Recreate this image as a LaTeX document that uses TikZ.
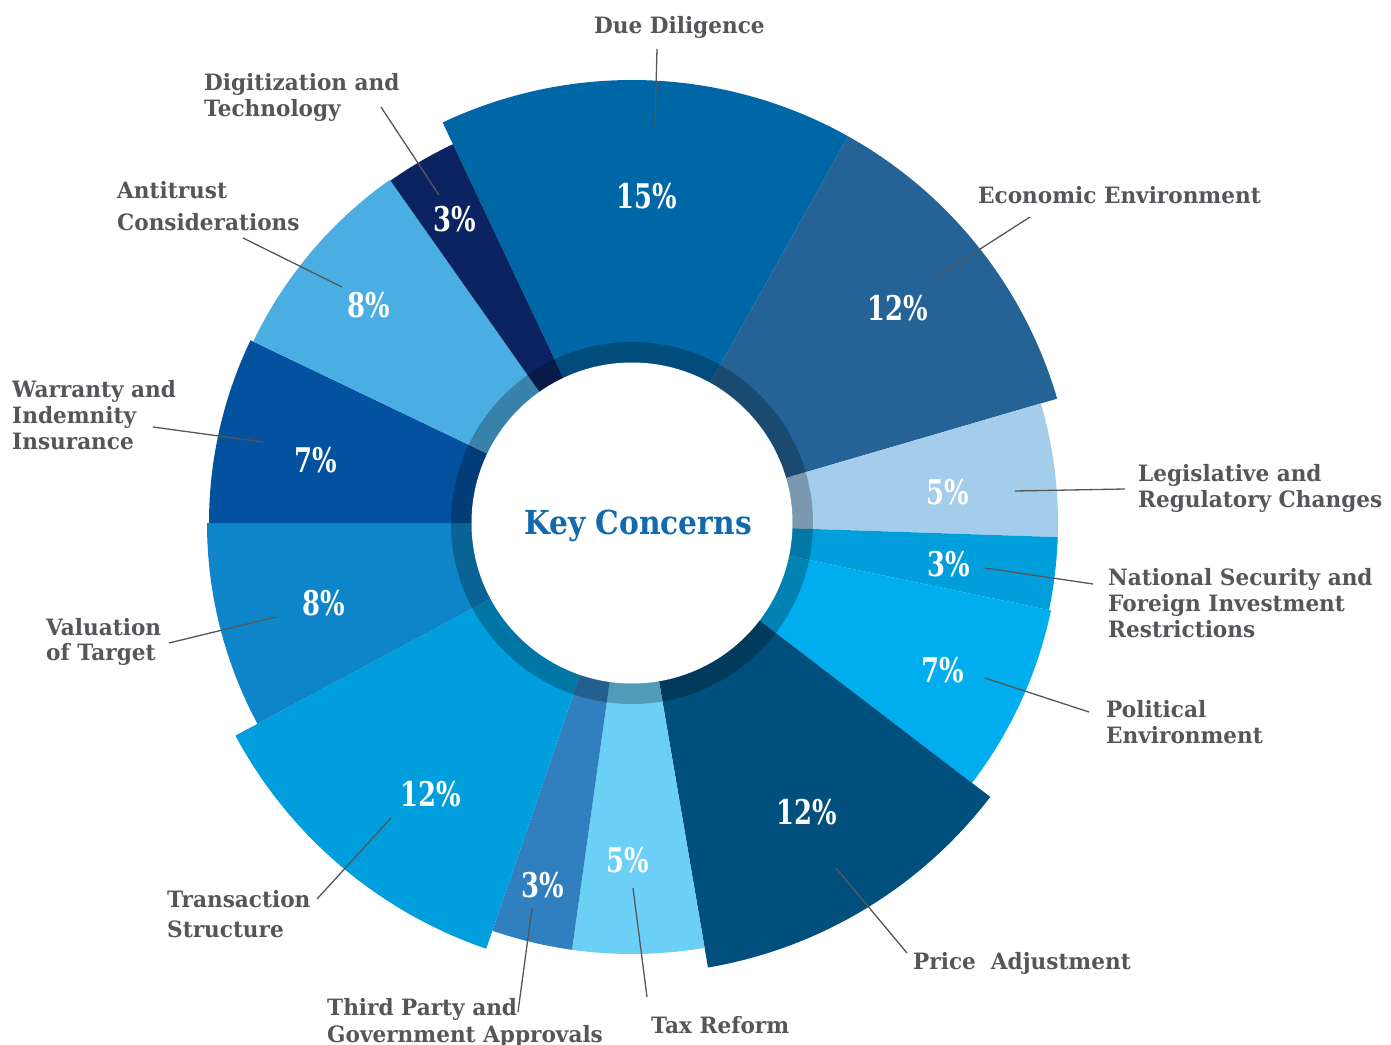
\documentclass[tikz,border=0pt]{standalone}
\usepackage{fontspec}
\setmainfont{DejaVu Serif}[FakeStretch=0.96]
\newfontfamily\pctfont{DejaVu Serif}[FakeStretch=0.76]
\newfontfamily\titlefont{DejaVu Serif}[FakeStretch=0.9]
\usepackage{tikz}

\definecolor{labelgray}{HTML}{55565A}
\definecolor{titleblue}{HTML}{1169AE}
\definecolor{duecol}{HTML}{0067A7}
\definecolor{econcol}{HTML}{256397}
\definecolor{legiscol}{HTML}{A3CDEB}
\definecolor{natcol}{HTML}{009FDC}
\definecolor{polcol}{HTML}{00AEEF}
\definecolor{pricecol}{HTML}{004F7D}
\definecolor{taxcol}{HTML}{6BCFF6}
\definecolor{thirdcol}{HTML}{3080BF}
\definecolor{transcol}{HTML}{009EDC}
\definecolor{valcol}{HTML}{0D85C8}
\definecolor{warrcol}{HTML}{0352A0}
\definecolor{anticol}{HTML}{4BAEE2}
\definecolor{digicol}{HTML}{0B2361}

\begin{document}
\begin{tikzpicture}[x=1pt, y=1pt,
    pct/.style={text=white, font=\pctfont\bfseries\fontsize{34}{34}\selectfont, inner sep=0pt},
    lbl/.style={text=labelgray, font=\bfseries\fontsize{22.5}{26}\selectfont, align=left, anchor=north west, inner sep=0pt},
    lead/.style={draw=labelgray, line width=1.3pt}]
      \useasboundingbox (-632,-521) rectangle (759,523);

      % Segmente
      \fill[duecol] (0,0) -- (115.3:443) arc[start angle=115.3, end angle=60.8, radius=443] -- cycle;
      \fill[econcol] (0,0) -- (60.8:443) arc[start angle=60.8, end angle=16.3, radius=443] -- cycle;
      \fill[legiscol] (0,0) -- (16.3:426) arc[start angle=16.3, end angle=-1.9, radius=426] -- cycle;
      \fill[natcol] (0,0) -- (-1.9:426) arc[start angle=-1.9, end angle=-11.8, radius=426] -- cycle;
      \fill[polcol] (0,0) -- (-11.8:428) arc[start angle=-11.8, end angle=-37.4, radius=428] -- cycle;
      \fill[pricecol] (0,0) -- (-37.4:451) arc[start angle=-37.4, end angle=-80.3, radius=451] -- cycle;
      \fill[taxcol] (0,0) -- (-80.3:431) arc[start angle=-80.3, end angle=-98.0, radius=431] -- cycle;
      \fill[thirdcol] (0,0) -- (-98.0:431) arc[start angle=-98.0, end angle=-108.9, radius=431] -- cycle;
      \fill[transcol] (0,0) -- (-108.9:450) arc[start angle=-108.9, end angle=-151.8, radius=450] -- cycle;
      \fill[valcol] (0,0) -- (-151.8:425) arc[start angle=-151.8, end angle=-180, radius=425] -- cycle;
      \fill[warrcol] (0,0) -- (180:423) arc[start angle=180, end angle=154.4, radius=423] -- cycle;
      \fill[anticol] (0,0) -- (154.4:420) arc[start angle=154.4, end angle=125.2, radius=420] -- cycle;
      \fill[digicol] (0,0) -- (125.2:419) arc[start angle=125.2, end angle=115.3, radius=419] -- cycle;

      % Ring und Mitte
      \fill[black, opacity=0.25] (0,0) circle (181);
      \fill[white] (0,0) circle (160.5);
      \node[text=titleblue, font=\titlefont\bfseries\fontsize{33}{33}\selectfont, anchor=base, inner sep=0pt] (title) at (6,-11) {Key Concerns};

      % Prozente
      \node[pct] (pdue) at (15,327) {15\%};
      \node[pct] (pecon) at (266,215) {12\%};
      \node[pct] (plegis) at (316,31) {5\%};
      \node[pct] (pnat) at (317,-41) {3\%};
      \node[pct] (ppol) at (311,-147) {7\%};
      \node[pct] (pprice) at (175,-289) {12\%};
      \node[pct] (ptax) at (-4,-337) {5\%};
      \node[pct] (pthird) at (-89,-362) {3\%};
      \node[pct] (ptrans) at (-201,-271) {12\%};
      \node[pct] (pval) at (-308,-80) {8\%};
      \node[pct] (pwarr) at (-316,63) {7\%};
      \node[pct] (panti) at (-263,218) {8\%};
      \node[pct] (pdigi) at (-177,304) {3\%};

      % Beschriftungen
      \node[lbl] (due) at (-38,507) {Due Diligence};
      \node[lbl] (digi) at (-428,450) {Digitization and\\Technology};
      \node[lbl] (econ) at (346,337) {Economic Environment};
      \node[lbl, font=\bfseries\fontsize{22.5}{32}\selectfont] (anti) at (-515,342) {Antitrust\\Considerations};
      \node[lbl] (warr) at (-620,143) {Warranty and\\Indemnity\\Insurance};
      \node[lbl, font=\bfseries\fontsize{22.5}{25}\selectfont] (val) at (-586,-95) {Valuation\\of Target};
      \node[lbl] (legis) at (506,59) {Legislative and\\Regulatory Changes};
      \node[lbl] (nat) at (476,-45) {National Security and\\Foreign Investment\\Restrictions};
      \node[lbl] (pol) at (474,-177) {Political\\Environment};
      \node[lbl] (price) at (281,-429) {Price~~Adjustment};
      \node[lbl] (tax) at (19,-493) {Tax Reform};
      \node[lbl, font=\bfseries\fontsize{22.5}{27}\selectfont] (third) at (-305,-475) {Third Party and\\Government Approvals};
      \node[lbl, font=\bfseries\fontsize{22.5}{30}\selectfont] (trans) at (-465,-367) {Transaction\\Structure};

      % Linien
      \coordinate (due-a) at (23,396);   \coordinate (due-b) at (25,474);
      \coordinate (digi-a) at (-193,328); \coordinate (digi-b) at (-251,416);
      \coordinate (econ-a) at (303,245); \coordinate (econ-b) at (398,306);
      \coordinate (legis-a) at (383,32); \coordinate (legis-b) at (493,34);
      \coordinate (nat-a) at (353,-45); \coordinate (nat-b) at (461,-61);
      \coordinate (pol-a) at (353,-155); \coordinate (pol-b) at (457,-189);
      \coordinate (price-a) at (204,-345); \coordinate (price-b) at (275,-430);
      \coordinate (tax-a) at (1,-365); \coordinate (tax-b) at (15,-474);
      \coordinate (third-a) at (-100,-385); \coordinate (third-b) at (-114,-489);
      \coordinate (trans-a) at (-241,-295); \coordinate (trans-b) at (-315,-376);
      \coordinate (val-a) at (-356,-94); \coordinate (val-b) at (-463,-120);
      \coordinate (warr-a) at (-369,81); \coordinate (warr-b) at (-479,96);
      \coordinate (anti-a) at (-290,236); \coordinate (anti-b) at (-389,285);
      \draw[lead] (due-a) -- (due-b);
      \draw[lead] (digi-a) -- (digi-b);
      \draw[lead] (econ-a) -- (econ-b);
      \draw[lead] (legis-a) -- (legis-b);
      \draw[lead] (nat-a) -- (nat-b);
      \draw[lead] (pol-a) -- (pol-b);
      \draw[lead] (price-a) -- (price-b);
      \draw[lead] (tax-a) -- (tax-b);
      \draw[lead] (third-a) -- (third-b);
      \draw[lead] (trans-a) -- (trans-b);
      \draw[lead] (val-a) -- (val-b);
      \draw[lead] (warr-a) -- (warr-b);
      \draw[lead] (anti-a) -- (anti-b);
\end{tikzpicture}
\end{document}
